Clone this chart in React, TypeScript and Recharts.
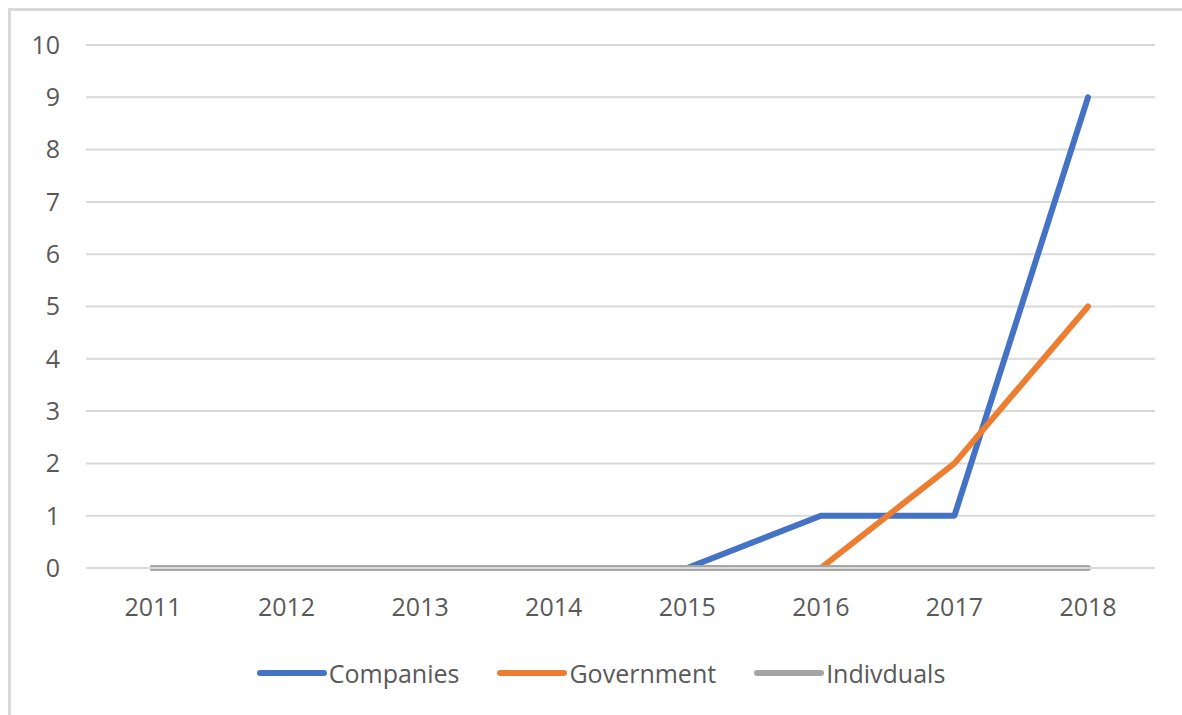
import { LineChart, Line, XAxis, YAxis, CartesianGrid, Legend } from 'recharts'

const years = ['2011', '2012', '2013', '2014', '2015', '2016', '2017', '2018']
const companies = [0, 0, 0, 0, 0, 1, 1, 9]
const government = [0, 0, 0, 0, 0, 0, 2, 5]
const individuals = [0, 0, 0, 0, 0, 0, 0, 0]
const yTicks = [0, 1, 2, 3, 4, 5, 6, 7, 8, 9, 10]

const series = [
  { key: 'companies', name: 'Companies', color: '#4472C4' },
  { key: 'government', name: 'Government', color: '#ED7D31' },
  { key: 'individuals', name: 'Indivduals', color: '#A5A5A5' },
]

const data = years.map((year, i) => ({
  year,
  companies: companies[i],
  government: government[i],
  individuals: individuals[i],
}))

const font = '"Open Sans", "Liberation Sans", sans-serif'
const textColor = '#595959'

function ChartLegend() {
  return (
    <div
      style={{
        display: 'flex',
        justifyContent: 'center',
        alignItems: 'center',
        height: 30,
        paddingLeft: 36,
        fontFamily: font,
        fontSize: 25,
        color: textColor,
      }}
    >
      {series.map((s) => (
        <div key={s.key} style={{ display: 'flex', alignItems: 'center', margin: '0 19px' }}>
          <svg width={70} height={10} style={{ marginRight: 2 }}>
            <line x1={3} y1={5} x2={67} y2={5} stroke={s.color} strokeWidth={6} strokeLinecap="round" />
          </svg>
          <span>{s.name}</span>
        </div>
      ))}
    </div>
  )
}

export default function App() {
  return (
    <div style={{ position: 'fixed', left: 0, top: 0, width: 1182, height: 715, overflow: 'hidden', background: '#fff' }}>
      {/* chart frame: only top and left edges are in view */}
      <div style={{ position: 'absolute', left: 8, top: 8, width: 1174, height: 3, background: '#d9d9d9' }} />
      <div style={{ position: 'absolute', left: 8, top: 8, width: 3, height: 707, background: '#d9d9d9' }} />
      <div style={{ position: 'absolute', left: 11, top: 11 }}>
        <LineChart width={1171} height={704} data={data} margin={{ top: 34, right: 27, bottom: 27, left: 0 }}>
          <CartesianGrid vertical={false} stroke="#d9d9d9" strokeWidth={2} />
          <XAxis
            dataKey="year"
            axisLine={{ stroke: '#d9d9d9', strokeWidth: 2 }}
            tickLine={false}
            tickSize={0}
            tickMargin={30}
            height={90}
            padding={{ left: 67, right: 67 }}
            tick={{ fill: textColor, fontSize: 25, fontFamily: font }}
            interval={0}
          />
          <YAxis
            domain={[0, 10]}
            ticks={yTicks}
            interval={0}
            width={75}
            axisLine={false}
            tickLine={false}
            tickSize={0}
            tickMargin={26}
            tick={{ fill: textColor, fontSize: 25, fontFamily: font }}
          />
          <Legend verticalAlign="bottom" height={30} content={() => <ChartLegend />} />
          {series.map((s) => (
            <Line
              key={s.key}
              type="linear"
              dataKey={s.key}
              name={s.name}
              stroke={s.color}
              strokeWidth={6}
              strokeLinecap="round"
              strokeLinejoin="round"
              dot={false}
              activeDot={false}
              isAnimationActive={false}
            />
          ))}
        </LineChart>
      </div>
    </div>
  )
}
